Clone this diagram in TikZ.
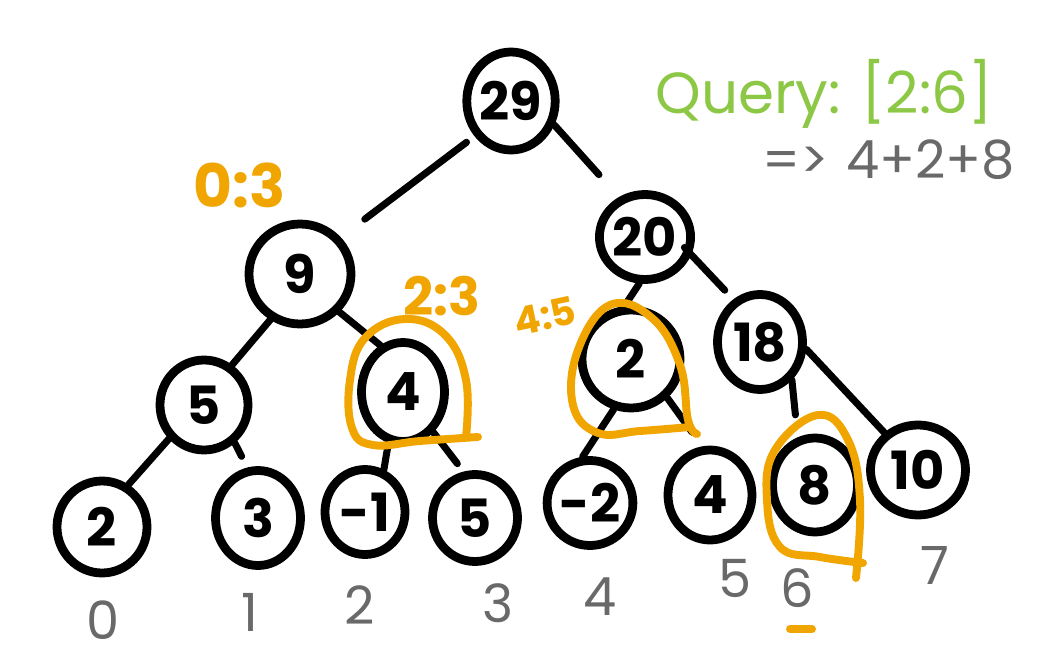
\documentclass[tikz,border=0pt]{standalone}
\usepackage{fontspec}
\setmainfont{Poppins}
\usetikzlibrary{shapes.geometric}
\definecolor{qorange}{RGB}{240,165,0}
\definecolor{qgreen}{RGB}{140,200,70}
\definecolor{qgray}{RGB}{105,105,105}
\tikzset{
  tnode/.style={ellipse, draw=black, line width=5pt, inner sep=0pt,
    font=\fontsize{30}{30}\selectfont\bfseries},
  edge/.style={line width=4pt, line cap=round},
  hilite/.style={draw=qorange, line width=4.5pt, line cap=round, line join=round},
  rangelbl/.style={text=qorange, inner sep=0pt, font=\fontsize{34}{34}\selectfont\bfseries},
  idxlbl/.style={text=qgray, inner sep=0pt, font=\fontsize{30}{30}\selectfont},
}
\begin{document}
\begin{tikzpicture}[x=0.02cm,y=-0.02cm]
\useasboundingbox (0,0) rectangle (1049,652);
% nodes
\node[tnode, minimum width=85*0.02cm, minimum height=98*0.02cm] (n29) at (511,101) {29};
\node[tnode, minimum width=102*0.02cm, minimum height=100*0.02cm] (n9) at (300,274) {9};
\node[tnode, minimum width=90*0.02cm, minimum height=85*0.02cm] (n20) at (645,237) {20};
\node[tnode, minimum width=88*0.02cm, minimum height=90*0.02cm] (n5) at (204,405) {5};
\node[tnode, minimum width=83*0.02cm, minimum height=99*0.02cm] (n4) at (403,392) {4};
\node[tnode, minimum width=98*0.02cm, minimum height=98*0.02cm] (n2) at (631,359) {2};
\node[tnode, minimum width=85*0.02cm, minimum height=95*0.02cm] (n18) at (760,342) {18};
\node[tnode, minimum width=90*0.02cm, minimum height=92*0.02cm] (l0) at (102,527) {2};
\node[tnode, minimum width=85*0.02cm, minimum height=95*0.02cm] (l1) at (258,518) {3};
\node[tnode, minimum width=80*0.02cm, minimum height=85*0.02cm] (l2) at (365,512) {-1};
\node[tnode, minimum width=85*0.02cm, minimum height=87*0.02cm] (l3) at (475,518) {5};
\node[tnode, minimum width=84*0.02cm, minimum height=85*0.02cm] (l4) at (590,503) {-2};
\node[tnode, minimum width=84*0.02cm, minimum height=90*0.02cm] (l5) at (710,495) {4};
\node[tnode, minimum width=85*0.02cm, minimum height=94*0.02cm] (l6) at (815,485) {8};
\node[tnode, minimum width=95*0.02cm, minimum height=90*0.02cm] (l7) at (918,470) {10};
% edges
\draw[edge, shorten >=0.6cm, shorten <=0.2cm] (n29.-136) -- (n9.42);
\draw[edge, shorten >=0.6cm] (n29.-29) -- (n20.123);
\draw[edge] (n9.-123) -- (n5.55);
\draw[edge] (n9.-44) -- (n4.116);
\draw[edge] (n20.-97) -- (n2.97);
\draw[edge, shorten <=-0.2cm, shorten >=0.25cm] (n20.-21) -- (n18.122);
\draw[edge] (n5.-136) -- (l0.58);
\draw[edge, shorten >=0.25cm] (n5.-51) -- (l1.102);
\draw[edge] (n4.-106) -- (l2.66);
\draw[edge, shorten >=0.2cm] (n4.-53) -- (l3.104);
\draw[edge] (n2.-109) -- (l4.99);
\draw[edge, shorten >=0.35cm] (n2.-47) -- (l5.99);
\draw[edge, shorten >=0.45cm] (n18.-50) -- (l6.110);
\draw[edge] (n18.-9) -- (l7.132);
% highlights
\draw[hilite] plot[smooth, tension=0.7] coordinates {(478,437) (420,441) (373,445) (352,428) (350,380) (365,338) (405,319) (445,335) (466,380) (466,437)};
\draw[hilite] plot[smooth, tension=0.7] coordinates {(690,427) (640,431) (598,433) (573,405) (578,350) (610,305) (652,318) (680,365) (688,420) (697,434)};
\draw[hilite] plot[smooth, tension=0.7] coordinates {(863,563) (820,557) (780,547) (767,500) (775,450) (818,415) (848,440) (860,500) (856,578)};
% range labels
\node[rangelbl] (r03) at (240,185) {0:3};
\node[rangelbl, font=\fontsize{30}{30}\selectfont\bfseries] (r23) at (442,296) {2:3};
\node[rangelbl, font=\fontsize{22}{22}\selectfont\bfseries, rotate=12] (r45) at (545,316) {4:5};
% index labels
\node[idxlbl] (i0) at (103,620) {0};
\node[idxlbl] (i1) at (250,612) {1};
\node[idxlbl] (i2) at (360,605) {2};
\node[idxlbl] (i3) at (498,603) {3};
\node[idxlbl] (i4) at (600,597) {4};
\node[idxlbl] (i5) at (735,578) {5};
\node[idxlbl] (i6) at (797,588) {6};
\node[idxlbl] (i7) at (935,565) {7};
\coordinate (u1) at (790,629);
\coordinate (u2) at (812,629);
\draw[draw=qorange, line width=4.5pt, line cap=round] (u1) -- (u2);
% query
\node[text=qgreen, font=\fontsize{33}{33}\selectfont, anchor=west, inner sep=0pt] (q) at (655,94) {Query: [2:6]};
\node[text=qgray, font=\fontsize{30}{30}\selectfont, anchor=west, inner sep=0pt] (ans) at (762,160) {=>\,\,4+2+8};
\end{tikzpicture}
\end{document}
